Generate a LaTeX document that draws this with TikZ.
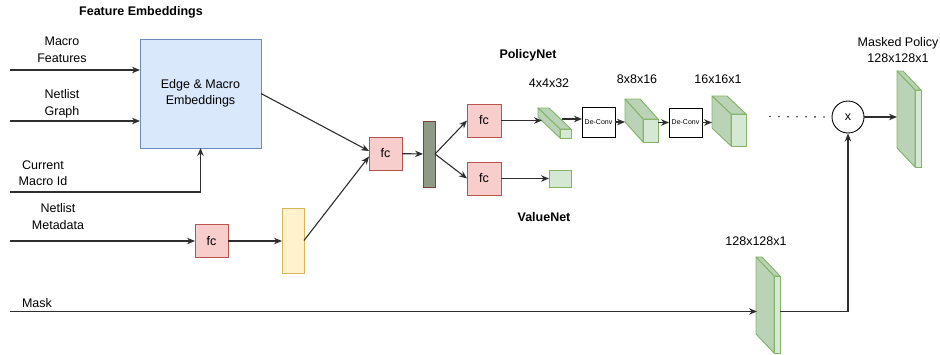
\documentclass[tikz,border=0pt]{standalone}
\usepackage{fontspec}
\setmainfont{Liberation Sans}
\usetikzlibrary{arrows.meta,calc}

\definecolor{blueF}{HTML}{DAE8FC}\definecolor{blueD}{HTML}{6C8EBF}
\definecolor{redF}{HTML}{F8CECC}\definecolor{redD}{HTML}{B85450}
\definecolor{yelF}{HTML}{FFF2CC}\definecolor{yelD}{HTML}{D6B656}
\definecolor{grnF}{HTML}{D5E8D4}\definecolor{grnS}{HTML}{BAD3B6}\definecolor{grnD}{HTML}{82B366}
\definecolor{barF}{HTML}{8E9A86}\definecolor{barD}{HTML}{7A4436}
\definecolor{lineC}{HTML}{2E2E2E}

% side faces (top and left) of a box whose front face is node #1, depth (#2,#3)
\newcommand\cubefaces[3]{%
  \filldraw[cubeside] (#1.north west) -- (#1.north east) -- ++(#2,#3)
    -- ($(#1.north west)+(#2,#3)$) -- cycle;
  \filldraw[cubeside] (#1.north west) -- ($(#1.north west)+(#2,#3)$)
    -- ($(#1.south west)+(#2,#3)$) -- (#1.south west) -- cycle;
}

\begin{document}
\begin{tikzpicture}[x=1pt,y=-1pt,
  lbl/.style={font=\fontsize{12.5}{16.5}\selectfont, align=center, inner sep=0},
  title/.style={font=\bfseries\fontsize{12.5}{15}\selectfont, inner sep=0},
  box/.style={line width=0.9pt, inner sep=0, outer sep=0},
  fcbox/.style={box, draw=redD, fill=redF, minimum width=33pt, minimum height=33pt,
    font=\fontsize{12.5}{15}\selectfont},
  deconv/.style={box, draw=black, fill=white, minimum width=33pt, minimum height=30pt,
    font=\fontsize{7}{8}\selectfont},
  cubefront/.style={box, draw=grnD, fill=grnF},
  cubeside/.style={draw=grnD, fill=grnS, line width=0.9pt, line join=round},
  conn/.style={draw=lineC, line width=1.1pt, -{Stealth[length=8pt,width=6.5pt]}},
  dots/.style={draw=lineC, line width=1.8pt, line cap=round, dash pattern=on 0pt off 9pt},
]
\useasboundingbox (0,0) rectangle (940,354);

% titles and input labels
\node[title] (fe) at (141,12) {Feature Embeddings};
\node[lbl] (mf) at (62,50) {Macro\\Features};
\node[lbl] (ng) at (62,104) {Netlist\\Graph};
\node[lbl] (cm) at (43,173) {Current\\Macro Id};
\node[lbl] (nm) at (58,216.5) {Netlist\\Metadata};
\node[lbl] (mk) at (37,303) {Mask};
\node[title] (pn) at (528,55) {PolicyNet};
\node[title] (vn) at (544,217) {ValueNet};

% embedding block
\node[box, draw=blueD, fill=blueF, minimum width=121pt, minimum height=109pt,
  align=center, font=\fontsize{12.5}{16.5}\selectfont] (emb) at (200.5,93.5)
  {Edge \& Macro\\Embeddings};

% metadata branch
\node[fcbox] (fc0) at (211.5,241) {fc};
\node[box, draw=yelD, fill=yelF, minimum width=22pt, minimum height=65pt] (yb) at (293,240.5) {};

% merge
\node[fcbox] (fc1) at (385.5,153.5) {fc};
\node[box, draw=barD, fill=barF, minimum width=12pt, minimum height=66pt] (bar) at (429,154) {};
\node[fcbox, minimum width=34pt] (fc2) at (484,120.5) {fc};
\node[fcbox, minimum width=34pt] (fc3) at (484,178.5) {fc};

% value head
\node[box, draw=grnD, fill=grnF, minimum width=22pt, minimum height=17pt] (vs) at (560,178.5) {};

% policy head
\node[lbl] (s1) at (549,83) {4x4x32};
\node[lbl] (s2) at (637,79) {8x8x16};
\node[lbl] (s3) at (718,79) {16x16x1};
\node[cubefront, minimum width=11pt, minimum height=9pt] (c1) at (565.5,133.5) {};
\cubefaces{c1}{-22}{-21}
\node[deconv] (dc1) at (598.5,122) {De-Conv};
\node[cubefront, minimum width=15pt, minimum height=23pt] (c2) at (650.5,130.5) {};
\cubefaces{c2}{-18}{-20}
\node[deconv, minimum height=29pt] (dc2) at (685.5,122.5) {De-Conv};
\node[cubefront, minimum width=15pt, minimum height=32pt] (c3) at (738.5,130) {};
\cubefaces{c3}{-19}{-18}

\node[circle, draw=black, line width=0.9pt, fill=white, minimum size=32pt, inner sep=0,
  font=\fontsize{12.5}{15}\selectfont] (mul) at (848,117) {x};

% masked policy output
\node[lbl] (mpl) at (898,50) {Masked Policy\\128x128x1};
\node[cubefront, minimum width=6pt, minimum height=77pt] (mp) at (918,128.5) {};
\cubefaces{mp}{-18}{-19}

% mask plane
\node[lbl] (mkl) at (756,241) {128x128x1};
\node[cubefront, minimum width=6pt, minimum height=77pt] (mkp) at (777,314.5) {};
\cubefaces{mkp}{-18}{-19}

% connector end points
\coordinate (mfS) at (10,70);
\coordinate (ngS) at (10,121);
\coordinate (cmS) at (10,192);
\coordinate (nmS) at (10,241);
\coordinate (mkS) at (10,311.5);
\coordinate (c1in) at (542,120.5);
\coordinate (c1out) at (562,119);
\coordinate (c2in) at (625,122);
\coordinate (c3in) at (712,122.5);
\coordinate (dotS) at (770,116.5);
\coordinate (mpin) at (897,117);
\coordinate (mkin) at (757,311.5);
\coordinate (mkout) at (780,311.5);

% connectors
\draw[conn] (mfS) -- (emb.west |- mfS);
\draw[conn] (ngS) -- (emb.west |- ngS);
\draw[conn] (cmS) -| (emb.south);
\draw[conn] (nmS) -- (fc0.west);
\draw[conn] (fc0.east) -- (fc0.east -| yb.west);
\draw[conn] (emb.east) -- ([yshift=2.5pt]fc1.west);
\draw[conn] (yb.east) -- ([yshift=-3pt]fc1.west);
\draw[conn] (fc1) -- (bar);
\draw[conn] (bar.east) -- (fc2.west);
\draw[conn] (bar.east) -- (fc3.west);
\draw[conn] (fc3) -- (vs);
\draw[conn] (fc2.east) -- (c1in);
\draw[conn] (c1out) -- (dc1.west |- c1out);
\draw[conn] (dc1.east) -- (c2in);
\draw[conn] (c2.east |- dc2.west) -- (dc2.west);
\draw[conn] (dc2.east) -- (c3in);
\draw[dots] (dotS) -- (mul.west);
\draw[conn] (mul.east) -- (mpin);
\draw[conn] (mkS) -- (mkin);
\draw[conn] (mkout) -| (mul.south);
\end{tikzpicture}
\end{document}
